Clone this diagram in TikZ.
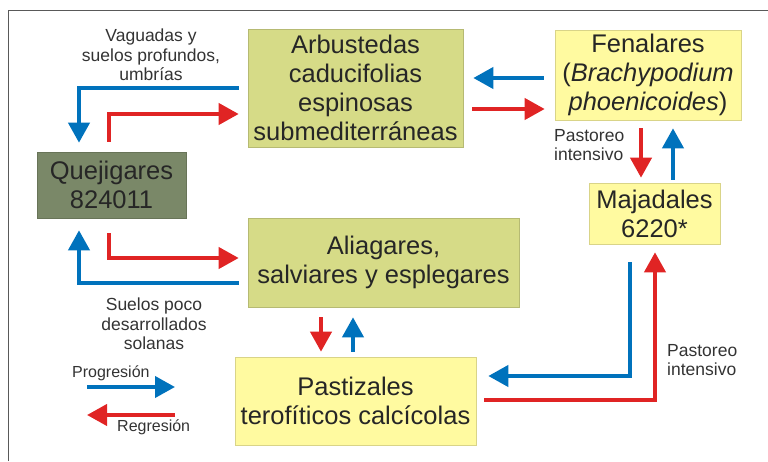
\documentclass[tikz,border=0pt]{standalone}
\usepackage{fontspec}
\setmainfont{Liberation Sans}
\usepackage{tikz}
\usetikzlibrary{%
        arrows.meta
    }
\definecolor{olivebox}{RGB}{214, 219, 135}
\definecolor{darkbox}{RGB}{122, 136, 104}
\definecolor{paleyellow}{RGB}{255, 250, 160}
\definecolor{progblue}{RGB}{0, 114, 188}
\definecolor{regred}{RGB}{224, 36, 36}
\tikzset{%
    box/.style={%
        draw=#1!85!black, fill=#1, line width=0.6pt, align=center,
        inner sep=2pt, text=black!85,
        font=\fontsize{25.5}{29}\selectfont
    },
    note/.style={%
        align=center, inner sep=1pt, text=black!80,
        font=\fontsize{17.5}{19.5}\selectfont
    },
    prog/.style={%
        draw=progblue, line width=4pt,
        -{Triangle[length=20pt, width=21pt]}
    },
    regr/.style={%
        draw=regred, line width=4pt,
        -{Triangle[length=20pt, width=21pt]}
    }
}

\begin{document}
\begin{tikzpicture}[x=1pt, y=-1pt]

    \useasboundingbox (0, 0) rectangle (768, 461);
    \draw[black!65, line width=1pt] (8, 461) -- (8, 10) -- (768, 10);

    \node[box=olivebox, minimum width=215pt, minimum height=118pt]
        (arb) at (355.5, 88) {Arbustedas\\caducifolias\\espinosas\\submediterráneas};
    \node[box=paleyellow, minimum width=186pt, minimum height=90pt]
        (fen) at (648, 75) {Fenalares\\(\textit{Brachypodium}\\\textit{phoenicoides})};
    \node[box=darkbox, minimum width=149pt, minimum height=66pt]
        (que) at (111.5, 185) {Quejigares\\824011};
    \node[box=paleyellow, minimum width=131pt, minimum height=61pt]
        (maj) at (654.5, 213.5) {Majadales\\6220*};
    \node[box=olivebox, minimum width=271pt, minimum height=89pt]
        (ali) at (383.5, 262.5) {Aliagares,\\salviares y esplegares};
    \node[box=paleyellow, minimum width=241pt, minimum height=88pt]
        (pas) at (355.5, 401) {Pastizales\\terofíticos calcícolas};

    \node[note] (vag) at (151, 55) {Vaguadas y\\suelos profundos,\\umbrías};
    \node[note] (sue) at (154, 324) {Suelos poco\\desarrollados\\solanas};
    \node[note, anchor=west, align=left] (past1) at (553, 145) {Pastoreo\\intensivo};
    \node[note, anchor=west, align=left] (past2) at (666, 360) {Pastoreo\\intensivo};

    \draw[prog] ([xshift=-9pt] arb.west) -| ([xshift=-32.5pt, yshift=9pt] que.north);
    \draw[regr] ([xshift=-2.5pt, yshift=10pt] que.north)
        |- ([xshift=-9pt, yshift=-26pt] arb.west);

    \draw[prog] ([xshift=-11pt, yshift=-3pt] fen.west)
        -- ([xshift=10pt, yshift=10pt] arb.east);
    \draw[regr] ([xshift=9pt, yshift=-21pt] arb.east)
        -- ([xshift=-10pt, yshift=-34pt] fen.west);

    \draw[regr] ([xshift=-7pt, yshift=-8pt] fen.south)
        -- ([xshift=-13.5pt, yshift=5pt] maj.north);
    \draw[prog] ([xshift=18.5pt, yshift=3pt] maj.north)
        -- ([xshift=25pt, yshift=-8pt] fen.south);

    \draw[prog] ([xshift=-9pt, yshift=-20.5pt] ali.west)
        -| ([xshift=-32.5pt, yshift=-12pt] que.south);
    \draw[regr] ([xshift=-2.5pt, yshift=-15pt] que.south)
        |- ([xshift=-9pt, yshift=4.5pt] ali.west);

    \draw[regr] ([xshift=-62.5pt, yshift=-10pt] ali.south)
        -- ([xshift=-34.5pt, yshift=5pt] pas.north);
    \draw[prog] ([xshift=-2.5pt, yshift=5pt] pas.north)
        -- ([xshift=-30.5pt, yshift=-10pt] ali.south);

    \draw[prog] ([xshift=-24.5pt, yshift=-18pt] maj.south)
        |- ([xshift=12pt, yshift=25pt] pas.east);
    \draw[regr] ([xshift=8pt, yshift=1pt] pas.east)
        -| ([xshift=0.5pt, yshift=-8pt] maj.south);

    % legend
    \node[note, font=\fontsize{16}{18}\selectfont, anchor=west] (progtxt) at (71, 373) {Progresión};
    \node[note, font=\fontsize{16}{18}\selectfont, anchor=west] (regtxt) at (116, 427) {Regresión};
    \coordinate (progA) at (87, 387);
    \coordinate (progB) at (175, 387);
    \coordinate (regA) at (175, 415);
    \coordinate (regB) at (87, 415);
    \draw[prog] (progA) -- (progB);
    \draw[regr] (regA) -- (regB);

\end{tikzpicture}
\end{document}
